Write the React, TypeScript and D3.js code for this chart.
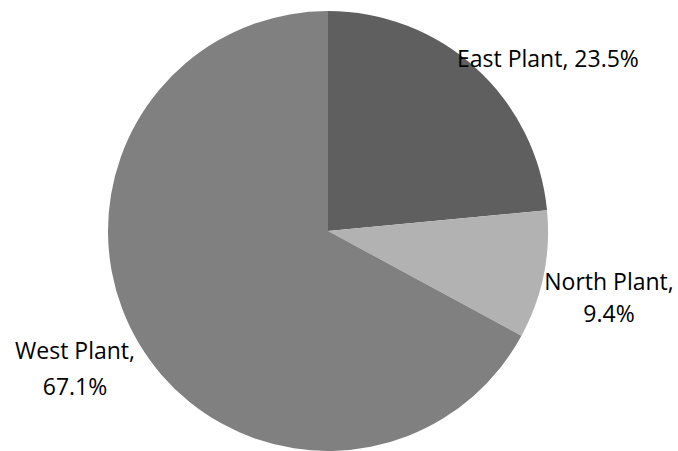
import React from "react";
import * as d3 from "d3";

const categories = ["East Plant", "North Plant", "West Plant"];
const values = [23.5, 9.4, 67.1];
const colors = ["#5f5f5f", "#b2b2b2", "#808080"];

const W = 678, H = 451;
const cx = 328, cy = 231, R = 220;

export default function App() {
  const pie = d3.pie<number>().sort(null).value(d => d)(values);
  const arc = d3.arc<d3.PieArcDatum<number>>().innerRadius(0).outerRadius(R);
  const font = "'Open Sans', sans-serif";
  const fs = 23;
  return (
    <svg width={W} height={H} style={{ position: "absolute", left: 0, top: 0 }}>
      <rect width={W} height={H} fill="#fff" />
      <g transform={`translate(${cx},${cy})`}>
        {pie.map((p, i) => (
          <path key={i} d={arc(p) || ""} fill={colors[i]} />
        ))}
      </g>
      <g fontFamily={font} fontSize={fs} fill="#000">
        <text x={457} y={66.5}>{`${categories[0]}, ${values[0].toFixed(1)}%`}</text>
        <text x={609} y={290} textAnchor="middle">{`${categories[1]},`}</text>
        <text x={609} y={322} textAnchor="middle">{`${values[1].toFixed(1)}%`}</text>
        <text x={75} y={359} textAnchor="middle">{`${categories[2]},`}</text>
        <text x={75} y={395} textAnchor="middle">{`${values[2].toFixed(1)}%`}</text>
      </g>
    </svg>
  );
}
